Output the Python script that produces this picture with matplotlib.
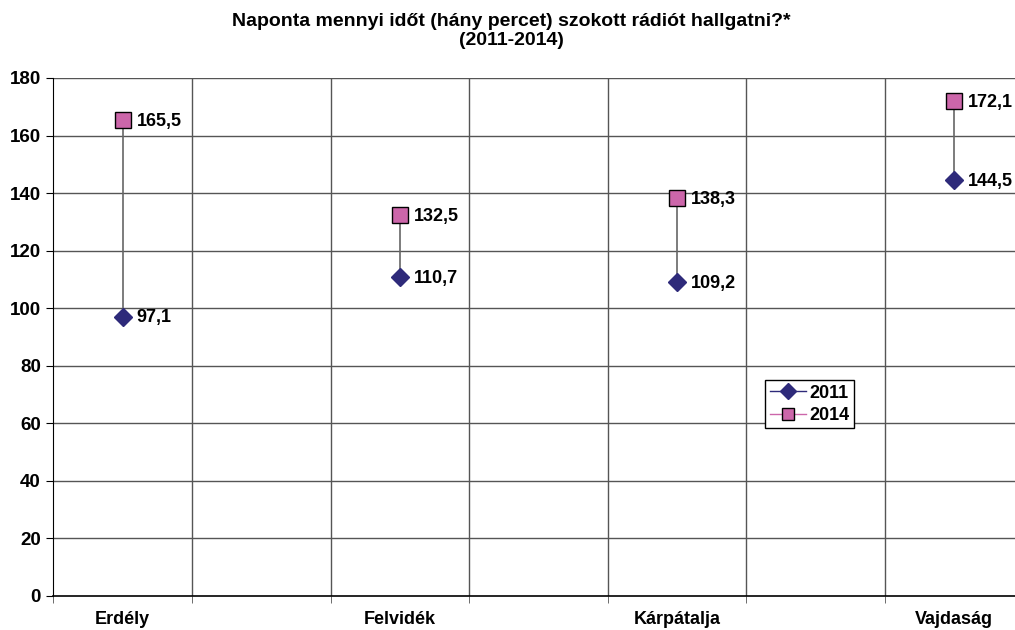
import matplotlib.pyplot as plt
import numpy as np

plt.rcParams['font.family'] = ['Liberation Sans', 'DejaVu Sans']

# adatok (ures kategoriak a tavolsag miatt, mint az eredeti Excel abran)
kategoriak = ["Erdély", "", "Felvidék", "", "Kárpátalja", "", "Vajdaság"]
ertek_2011 = [97.1, np.nan, 110.7, np.nan, 109.2, np.nan, 144.5]
ertek_2014 = [165.5, np.nan, 132.5, np.nan, 138.3, np.nan, 172.1]
cimkek_2011 = ["97,1", "", "110,7", "", "109,2", "", "144,5"]
cimkek_2014 = ["165,5", "", "132,5", "", "138,3", "", "172,1"]

SZIN_2011 = '#2E2A7A'
SZIN_2014 = '#CC66AA'
RACS = '#555555'

fig = plt.figure(figsize=(10.15, 6.3), dpi=100)
ax = fig.add_axes([53.3 / 1015, 34 / 630, 970.2 / 1015, 518 / 630])

x = np.arange(len(kategoriak))
a = np.array(ertek_2011)
b = np.array(ertek_2014)

# racsvonalak
for yy in range(20, 181, 20):
    ax.axhline(yy, color=RACS, lw=1, zorder=1)
for xx in np.arange(0.5, len(kategoriak) - 0.5):
    ax.axvline(xx, color=RACS, lw=1, zorder=1)

# min-max vonalak
ok = ~np.isnan(a)
ax.vlines(x[ok], a[ok], b[ok], color='#666666', lw=1.2, zorder=2)

ax.plot(x, a, color=SZIN_2011, marker='D', markersize=9, markerfacecolor=SZIN_2011,
        markeredgecolor=SZIN_2011, lw=1, label='2011', zorder=3)
ax.plot(x, b, color=SZIN_2014, marker='s', markersize=11, markerfacecolor=SZIN_2014,
        markeredgecolor='black', markeredgewidth=1, lw=1, label='2014', zorder=3)

for i in range(len(kategoriak)):
    if cimkek_2011[i]:
        ax.annotate(cimkek_2011[i], (x[i], a[i]), xytext=(10, -1), textcoords='offset points',
                    ha='left', va='center', fontsize=13, fontweight='bold')
        ax.annotate(cimkek_2014[i], (x[i], b[i]), xytext=(10, -1), textcoords='offset points',
                    ha='left', va='center', fontsize=13, fontweight='bold')

ax.set_xlim(-0.5, len(kategoriak) - 0.5)
ax.set_ylim(0, 180)
ax.set_yticks(range(0, 181, 20))
ax.set_yticklabels([str(v) for v in range(0, 181, 20)], fontsize=13.5, fontweight='bold')
ax.set_xticks(x)
ax.set_xticklabels(kategoriak, fontsize=13, fontweight='bold')
ax.set_xticks(np.arange(-0.5, len(kategoriak)), minor=True)
ax.tick_params(axis='x', which='major', length=0, pad=11)
ax.tick_params(axis='x', which='minor', length=5, direction='out', color=RACS)
ax.tick_params(axis='y', length=5, direction='out', pad=4)

for s in ['top', 'right']:
    ax.spines[s].set_visible(False)
ax.spines['left'].set_color('black')
ax.spines['bottom'].set_color('black')
ax.spines['bottom'].set_linewidth(1.2)

fig.text(511 / 1015, 1 - 31 / 630, "Naponta mennyi időt (hány percet) szokott rádiót hallgatni?*\n(2011-2014)",
         ha='center', va='center', fontsize=14, fontweight='bold', linespacing=1.2)

leg = ax.legend(loc='upper left', bbox_to_anchor=(765 / 1015, 1 - 380 / 630),
                bbox_transform=fig.transFigure, frameon=True, fancybox=False,
                edgecolor='black', framealpha=1, prop={'weight': 'bold', 'size': 13},
                handlelength=2.0, borderpad=0.25, labelspacing=0.3, handletextpad=0.2,
                borderaxespad=0, markerscale=0.85)
leg.get_frame().set_linewidth(1)

fig.savefig('out.png', dpi=100)
